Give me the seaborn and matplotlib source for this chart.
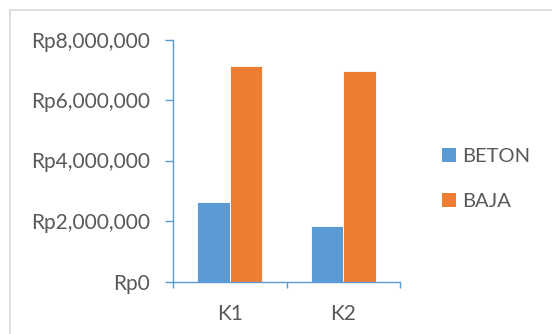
import matplotlib
matplotlib.use("Agg")
import matplotlib.pyplot as plt
import seaborn as sns
import pandas as pd
from matplotlib.ticker import FuncFormatter
from matplotlib.patches import Patch
from matplotlib.lines import Line2D

categories = ["K1", "K2"]
beton = [2630000, 1830000]
baja = [7140000, 6970000]
series_names = ["BETON", "BAJA"]
colors = ["#5B9BD5", "#ED7D31"]

df = pd.DataFrame({
    "cat": categories * 2,
    "series": [series_names[0]] * 2 + [series_names[1]] * 2,
    "value": beton + baja,
})

sns.set_theme(style="white")
plt.rcParams["font.family"] = ["Lato", "DejaVu Sans"]
text_color = "#595959"
axis_color = "#5B9BD5"

fig = plt.figure(figsize=(5.52, 3.34), dpi=100)
ax = fig.add_axes([173/552, 1-281.5/334, (400-173)/552, (281.5-39.5)/334])

sns.barplot(data=df, x="cat", y="value", hue="series", palette=colors,
            width=0.57, ax=ax, legend=False, saturation=1,
            edgecolor="white", linewidth=0.6)

ax.set_ylim(0, 8000000)
ax.set_xlim(-0.5, 1.5)
ax.set_yticks([0, 2000000, 4000000, 6000000, 8000000])
ax.yaxis.set_major_formatter(FuncFormatter(lambda v, p: f"Rp{int(v):,}"))
ax.set_xticks([-0.5, 0.5, 1.5])
ax.set_xticklabels([])
ax.set_xticks([0, 1], labels=categories, minor=True)
ax.tick_params(axis="x", which="major", direction="out", length=4.5, width=1,
               color=axis_color, bottom=True)
ax.tick_params(axis="x", which="minor", length=0, labelsize=15,
               labelcolor=text_color, pad=16)
ax.tick_params(axis="y", direction="out", length=5.8, width=1, color=axis_color,
               left=True, labelsize=15, labelcolor=text_color, pad=10.5)
ax.set_xlabel("")
ax.set_ylabel("")
for s in ["top", "right"]:
    ax.spines[s].set_visible(False)
for s in ["left", "bottom"]:
    ax.spines[s].set_color(axis_color)
    ax.spines[s].set_linewidth(1)

handles = [Patch(facecolor=c, edgecolor="none") for c in colors]
fig.legend(handles, series_names, loc="upper left",
           bbox_to_anchor=(442/552, 1-148/334), frameon=False,
           borderpad=0, borderaxespad=0,
           fontsize=14.5, labelcolor=text_color, handlelength=0.7,
           handleheight=0.7, handletextpad=0.3, labelspacing=1.37)

# chart frame (left and top borders visible)
fig.add_artist(Line2D([9.5/552, 9.5/552], [0, 1-9.5/334], color="#D9D9D9", lw=1.2,
                      transform=fig.transFigure))
fig.add_artist(Line2D([9.5/552, 1], [1-9.5/334, 1-9.5/334], color="#D9D9D9", lw=1.2,
                      transform=fig.transFigure))

fig.savefig("out.png", dpi=100)
